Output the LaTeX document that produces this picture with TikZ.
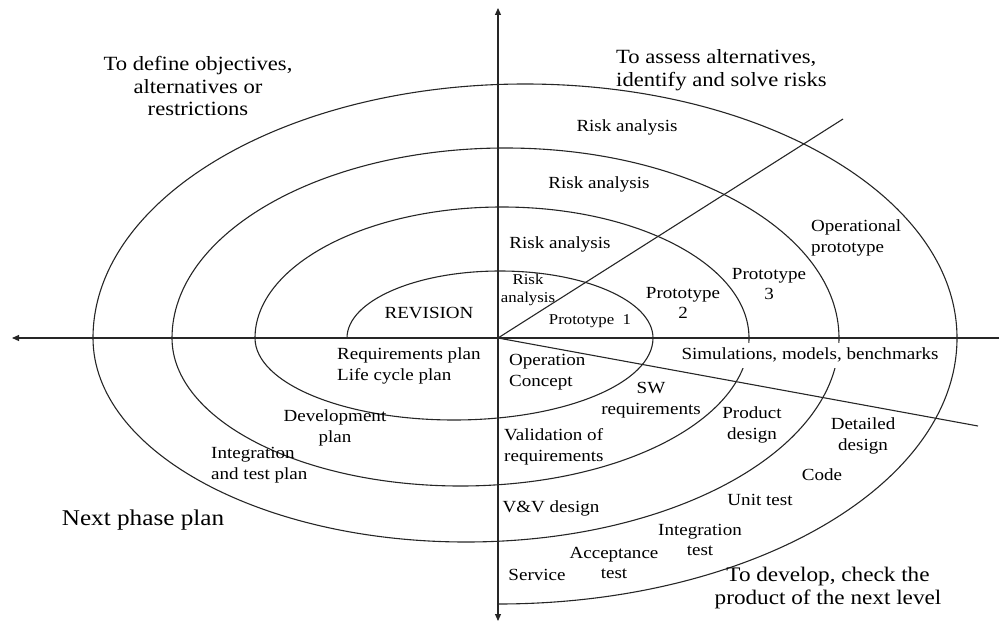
\documentclass[tikz,border=0pt]{standalone}
\usepackage{fontspec}
\setmainfont{Liberation Serif}[FakeStretch=1.12]
\usetikzlibrary{arrows.meta}
\begin{document}
\begin{tikzpicture}[x=1pt,y=1pt,
  curve/.style={line width=1.1pt,draw=black!85},
  axisline/.style={line width=1.1pt,draw=black!85},
  tipend/.style={-{Triangle[length=7pt,width=6pt]}},
  lbl/.style={inner sep=0pt,align=center,font=\fontsize{17}{20.5}\selectfont},
  lbll/.style={lbl,align=left,anchor=west},
  small/.style={inner sep=0pt,align=center,font=\fontsize{15}{17.5}\selectfont},
  big/.style={inner sep=0pt,align=center,font=\fontsize{20.2}{22.8}\selectfont}]
\useasboundingbox (0,0) rectangle (1000,-623);
\coordinate (O) at (498,-338);
\coordinate (L) at (12,-338);
\coordinate (R) at (999,-338);
\coordinate (T) at (498,-8);
\coordinate (B) at (498,-621);
\coordinate (D1) at (843,-119);
\coordinate (D2) at (978,-426);
\coordinate (S) at (347,-338);
% spiral
\draw[curve] (S)
  arc[start angle=180,end angle=0,x radius=153,y radius=67]
  arc[start angle=0,end angle=-180,x radius=199,y radius=82]
  arc[start angle=180,end angle=0,x radius=247,y radius=131]
  arc[start angle=0,end angle=-180,x radius=288.5,y radius=148]
  arc[start angle=180,end angle=0,x radius=333.5,y radius=190]
  arc[start angle=0,end angle=-180,x radius=373,y radius=204]
  arc[start angle=180,end angle=0,x radius=432,y radius=254]
  arc[start angle=0,end angle=-90,x radius=459,y radius=266];
% axes
\draw[axisline,tipend] (R) -- (L);
\draw[axisline,{Triangle[length=7pt,width=6pt]}-{Triangle[length=7pt,width=6pt]}] (T) -- (B);
\draw[axisline] (O) -- (D1);
\draw[axisline] (O) -- (D2);
% quadrant labels
\node[big] (q1) at (198,-86) {To define objectives,\\alternatives or\\restrictions};
\node[big,align=left,anchor=west] (q2) at (616,-70) {To assess alternatives,\\identify and solve risks};
\node[big,font=\fontsize{22.5}{25}\selectfont] (q3) at (143,-520) {Next phase plan};
\node[big,font=\fontsize{20.7}{22.5}\selectfont] (q4) at (828,-588) {To develop, check the\\product of the next level};
% upper labels
\node[lbl] (r4) at (627,-127) {Risk analysis};
\node[lbl] (r3) at (599,-184) {Risk analysis};
\node[lbl] (r2) at (560,-244) {Risk analysis};
\node[small] (r1) at (528,-290) {Risk\\analysis};
\node[small] (p1) at (590,-321) {Prototype\ \ 1};
\node[lbl] (p2) at (683,-303) {Prototype\\2};
\node[lbl] (p3) at (769,-284) {Prototype\\3};
\node[lbll] (op) at (811,-238) {Operational\\prototype};
\node[lbl] (rev) at (429,-313) {REVISION};
% lower labels
\node[lbl,fill=white,inner xsep=4pt,minimum height=25pt] (sim) at (810,-355) {Simulations, models, benchmarks};
\node[lbll] (req) at (337,-366) {Requirements plan\\Life cycle plan};
\node[lbll] (opc) at (509,-372) {Operation\\Concept};
\node[lbl] (sw) at (651,-400) {SW\\requirements};
\node[lbl] (pd) at (752,-425) {Product\\design};
\node[lbl] (dd) at (863,-436) {Detailed\\design};
\node[lbl] (code) at (822,-475) {Code};
\node[lbl] (ut) at (760,-500) {Unit test};
\node[lbl] (it) at (700,-540) {Integration\\test};
\node[lbl] (at) at (614,-563) {Acceptance\\test};
\node[lbl] (svc) at (537,-575) {Service};
\node[lbl] (vv) at (551,-508) {V\&V design};
\node[lbll] (val) at (504,-447) {Validation of\\requirements};
\node[lbl] (dev) at (335,-428) {Development\\plan};
\node[lbll] (itp) at (211,-465) {Integration\\and test plan};
\end{tikzpicture}
\end{document}
